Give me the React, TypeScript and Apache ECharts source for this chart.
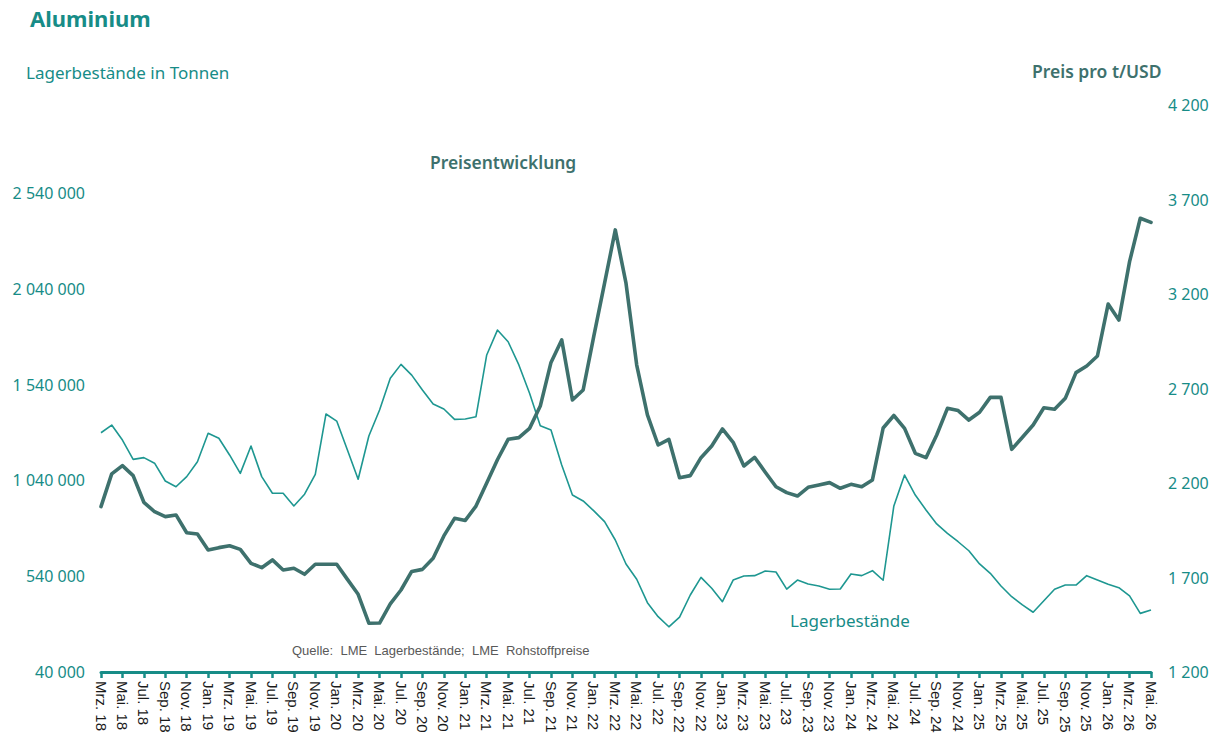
import React, { useEffect, useRef } from "react";
import * as echarts from "echarts";

// Monthly categories Mrz. 18 … Mai. 26
const MONTH_NAMES = ["Jan.", "Feb.", "Mrz.", "Apr.", "Mai.", "Jun.", "Jul.", "Aug.", "Sep.", "Okt.", "Nov.", "Dez."];
const START_YEAR = 2018;
const START_MONTH = 2; // March (0-based)
const MONTH_COUNT = 99;
const categories: string[] = [];
for (let i = 0; i < MONTH_COUNT; i++) {
  const m = (START_MONTH + i) % 12;
  const y = START_YEAR + Math.floor((START_MONTH + i) / 12);
  categories.push(`${MONTH_NAMES[m]} ${String(y).slice(2)}`);
}

// LME stocks in tonnes
const stocks = [
  1289000, 1329000, 1251000, 1150000, 1159000, 1130000, 1037000, 1007000, 1060000, 1138000,
  1286000, 1260000, 1173000, 1077000, 1220000, 1060000, 973000, 973000, 907000, 968000,
  1072000, 1387000, 1350000, 1199000, 1046000, 1272000, 1408000, 1573000, 1646000, 1590000,
  1512000, 1439000, 1413000, 1359000, 1361000, 1373000, 1695000, 1825000, 1764000, 1643000,
  1495000, 1326000, 1303000, 1121000, 964000, 933000, 881000, 825000, 729000, 604000,
  524000, 402000, 329000, 276000, 326000, 442000, 534000, 477000, 407000, 520000,
  541000, 543000, 567000, 562000, 473000, 520000, 499000, 489000, 472000, 473000,
  552000, 543000, 569000, 519000, 907000, 1068000, 964000, 886000, 813000, 764000,
  720000, 673000, 604000, 555000, 489000, 433000, 390000, 352000, 412000, 472000,
  494000, 494000, 543000, 520000, 498000, 480000, 437000, 346000, 364000,
];

// LME price in USD per tonne
const prices = [
  2075, 2248, 2292, 2239, 2098, 2048, 2022, 2031, 1937, 1930,
  1846, 1858, 1868, 1849, 1775, 1752, 1793, 1740, 1749, 1717,
  1770, 1770, 1770, 1690, 1611, 1458, 1459, 1560, 1634, 1732,
  1743, 1802, 1920, 2013, 2002, 2078, 2200, 2323, 2431, 2440,
  2489, 2607, 2838, 2957, 2639, 2692, 2978, 3257, 3539, 3257,
  2824, 2560, 2401, 2431, 2228, 2239, 2334, 2396, 2486, 2415,
  2290, 2336, 2257, 2180, 2149, 2131, 2177, 2189, 2202, 2172,
  2193, 2180, 2216, 2491, 2557, 2489, 2357, 2334, 2454, 2595,
  2583, 2533, 2574, 2653, 2653, 2378, 2442, 2507, 2598, 2590,
  2648, 2784, 2819, 2872, 3147, 3062, 3371, 3601, 3579,
];

const stockTicks = [40000, 540000, 1040000, 1540000, 2040000, 2540000];
const priceTicks = [1200, 1700, 2200, 2700, 3200, 3700, 4200];

const TEAL = "#178c87";
const DARK_TEAL = "#3e716d";
const STOCK_LINE = "#1e9791";
const FONT = "'Noto Sans', 'Open Sans', sans-serif";

const fmt = (v: number) => String(v).replace(/\B(?=(\d{3})+(?!\d))/g, " ");

export default function App() {
  const ref = useRef<HTMLDivElement>(null);

  useEffect(() => {
    if (!ref.current) return;
    const chart = echarts.init(ref.current, undefined, { renderer: "svg" });
    chart.setOption({
      animation: false,
      backgroundColor: "#ffffff",
      grid: { left: 101, right: 64, top: 105, bottom: 70, containLabel: false },
      xAxis: {
        type: "category",
        data: categories,
        boundaryGap: false,
        axisLine: { show: true, lineStyle: { color: TEAL, width: 3 } },
        axisTick: { show: true, interval: 1, length: 6, lineStyle: { color: TEAL, width: 2.5 } },
        axisLabel: {
          interval: 1,
          rotate: -90,
          margin: 9,
          color: "#1a1a1a",
          fontFamily: "'Liberation Sans', Arial, sans-serif",
          fontSize: 15,
        },
        splitLine: { show: false },
      },
      yAxis: [
        {
          type: "value",
          min: 40000,
          max: 3000000,
          position: "left",
          axisLine: { show: false },
          axisTick: { show: false },
          splitLine: { show: false },
          axisLabel: {
            customValues: stockTicks,
            formatter: (v: number) => fmt(v),
            color: TEAL,
            fontFamily: FONT,
            fontSize: 16,
            margin: 16,
          },
        },
        {
          type: "value",
          min: 1200,
          max: 4200,
          position: "right",
          axisLine: { show: false },
          axisTick: { show: false },
          splitLine: { show: false },
          axisLabel: {
            customValues: priceTicks,
            formatter: (v: number) => fmt(v),
            color: TEAL,
            fontFamily: FONT,
            fontSize: 16,
            margin: 17,
          },
        },
      ],
      series: [
        {
          name: "Lagerbestände",
          type: "line",
          yAxisIndex: 0,
          data: stocks,
          symbol: "none",
          lineStyle: { color: STOCK_LINE, width: 1.6, join: "round" },
          z: 2,
        },
        {
          name: "Preisentwicklung",
          type: "line",
          yAxisIndex: 1,
          data: prices,
          symbol: "none",
          lineStyle: { color: DARK_TEAL, width: 3.6, join: "round", cap: "round" },
          z: 3,
        },
      ],
      graphic: [
        {
          type: "text",
          left: 30,
          top: 7,
          style: { text: "Aluminium", font: `bold 22px ${FONT}`, fill: TEAL },
        },
        {
          type: "text",
          left: 26,
          top: 64,
          style: { text: "Lagerbestände in Tonnen", font: `17px ${FONT}`, fill: TEAL },
        },
        {
          type: "text",
          left: 1032,
          top: 62,
          style: { text: "Preis pro t/USD", font: `600 17.5px ${FONT}`, fill: DARK_TEAL },
        },
        {
          type: "text",
          left: 430,
          top: 153,
          style: { text: "Preisentwicklung", font: `600 17.4px ${FONT}`, fill: DARK_TEAL },
        },
        {
          type: "text",
          left: 790,
          top: 612,
          style: { text: "Lagerbestände", font: `17px ${FONT}`, fill: TEAL },
        },
        {
          type: "text",
          left: 292,
          top: 644,
          style: {
            text: "Quelle:  LME  Lagerbestände;  LME  Rohstoffpreise",
            font: `13px 'Liberation Sans', Arial, sans-serif`,
            fill: "#595959",
          },
        },
      ],
    });
    return () => chart.dispose();
  }, []);

  return (
    <div
      ref={ref}
      style={{ position: "fixed", left: 0, top: 0, width: 1215, height: 742, background: "#fff" }}
    />
  );
}
